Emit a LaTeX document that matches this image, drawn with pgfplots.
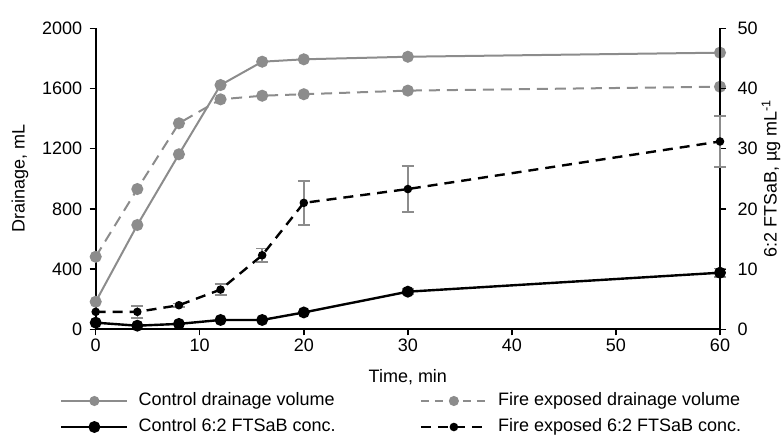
\documentclass[border=0pt]{standalone}
\usepackage{fontspec}
\setmainfont{Liberation Sans}
\usepackage{pgfplots}
\usepackage{pgfplotstable}
\pgfplotsset{compat=1.18}
\definecolor{linegray}{RGB}{140,140,140}

% drainage volume, mL
\pgfplotstableread{
t  vol
0  183
4  693
8  1163
12 1623
16 1778
20 1794
30 1811
60 1838
}\ctrlvol
\pgfplotstableread{
t  vol
0  482
4  932
8  1369
12 1528
16 1552
20 1562
30 1586
60 1612
}\firevol
% 6:2 FTSaB concentration, ug/mL, with error
\pgfplotstableread{
t  c     err
0  1.1   0
4  0.6   0
8  0.9   0
12 1.55  0
16 1.55  0
20 2.8   0
30 6.25  0.4
60 9.4   0.7
}\ctrlconc
\pgfplotstableread{
t  c     err
0  2.9   0
4  2.9   1.0
8  4.0   0.3
12 6.6   0.9
16 12.3  1.1
20 21.0  3.65
30 23.3  3.8
60 31.2  4.2
}\fireconc

\pgfplotsset{
  base/.style={
    scale only axis, width=624.3pt, height=301pt,
    at={(0pt,0pt)}, anchor=south west,
    xmin=0, xmax=60,
    font=\fontsize{18}{21}\selectfont,
    /pgf/number format/assume math mode=true,
    /pgf/number format/1000 sep={},
    axis line style={line width=1.8pt, black},
    tick style={line width=1.5pt, black},
    major tick length=6pt,
    tick align=outside,
    clip=false,
  },
  ebar/.style={draw=none, mark=none, forget plot,
    error bars/.cd, y dir=both, y explicit,
    error bar style={linegray, line width=1.6pt},
    error mark options={rotate=90, mark size=6pt, linegray, line width=1.6pt}},
  legend image code/.code={
    \draw[mark repeat=2,mark phase=2,#1] plot coordinates {(0pt,0pt)(33pt,0pt)(66pt,0pt)};},
}

\begin{document}
\begin{tikzpicture}
\useasboundingbox (-95.7pt,-106.7pt) rectangle (688.3pt,329.3pt);

\begin{axis}[base,
    ymin=0, ymax=2000,
    axis x line*=bottom, axis y line*=left,
    xtick={0,10,...,60}, ytick={0,400,...,2000},
    yticklabel style={xshift=-4pt},
    xlabel={Time, min}, ylabel={Drainage, mL},
    every axis x label/.style={at={(axis description cs:0.5,0)}, anchor=center, yshift=-48pt},
    every axis y label/.style={at={([xshift=-75.7pt]axis description cs:0,0.5)}, anchor=center, rotate=90},
]
  \addplot[linegray, line width=2pt, mark=*, mark size=5pt] table[x=t, y=vol] {\ctrlvol};
  \addplot[linegray, line width=2pt, dash pattern=on 11pt off 7pt, mark=*, mark size=5pt, mark options={solid}] table[x=t, y=vol] {\firevol};
\end{axis}

\begin{axis}[base,
    ymin=0, ymax=50,
    axis x line=none, axis y line*=right,
    ytick={0,10,...,50},
    yticklabel style={xshift=8pt},
    ylabel={6:2 FTSaB, µg mL\textsuperscript{-1}},
    every axis y label/.style={at={([xshift=51pt]axis description cs:1,0.5)}, anchor=center, rotate=90},
    legend columns=2,
    legend style={at={(axis description cs:0,0)}, anchor=north west, xshift=-35.7pt, yshift=-63pt,
      draw=none, fill=none, inner sep=0pt, row sep=9pt,
      nodes={inner sep=0pt, text height=13pt, text depth=4pt, anchor=west},
      /tikz/every odd column/.append style={column sep=10pt},
      /tikz/every even column/.append style={column sep=84pt}},
    legend cell align=left,
]
  \addlegendimage{linegray, line width=2pt, mark=*, mark size=4pt}
  \addlegendentry{Control drainage volume}
  \addlegendimage{linegray, line width=2pt, dash pattern=on 8pt off 6pt, mark=*, mark size=4pt, mark options={solid}}
  \addlegendentry{Fire exposed drainage volume}

  \addplot[skip coords between index={0}{6}, ebar] table[x=t, y=c, y error=err] {\ctrlconc};
  \addplot[skip coords between index={0}{1}, ebar] table[x=t, y=c, y error=err] {\fireconc};

  \addplot[black, line width=2.4pt, mark=*, mark size=4.7pt] table[x=t, y=c] {\ctrlconc};
  \addlegendentry{Control 6:2 FTSaB conc.}
  \addplot[black, line width=2.4pt, dash pattern=on 10pt off 7pt, mark=*, mark size=3pt, mark options={solid}] table[x=t, y=c] {\fireconc};
  \addlegendentry{Fire exposed 6:2 FTSaB conc.}
\end{axis}
\end{tikzpicture}
\end{document}
